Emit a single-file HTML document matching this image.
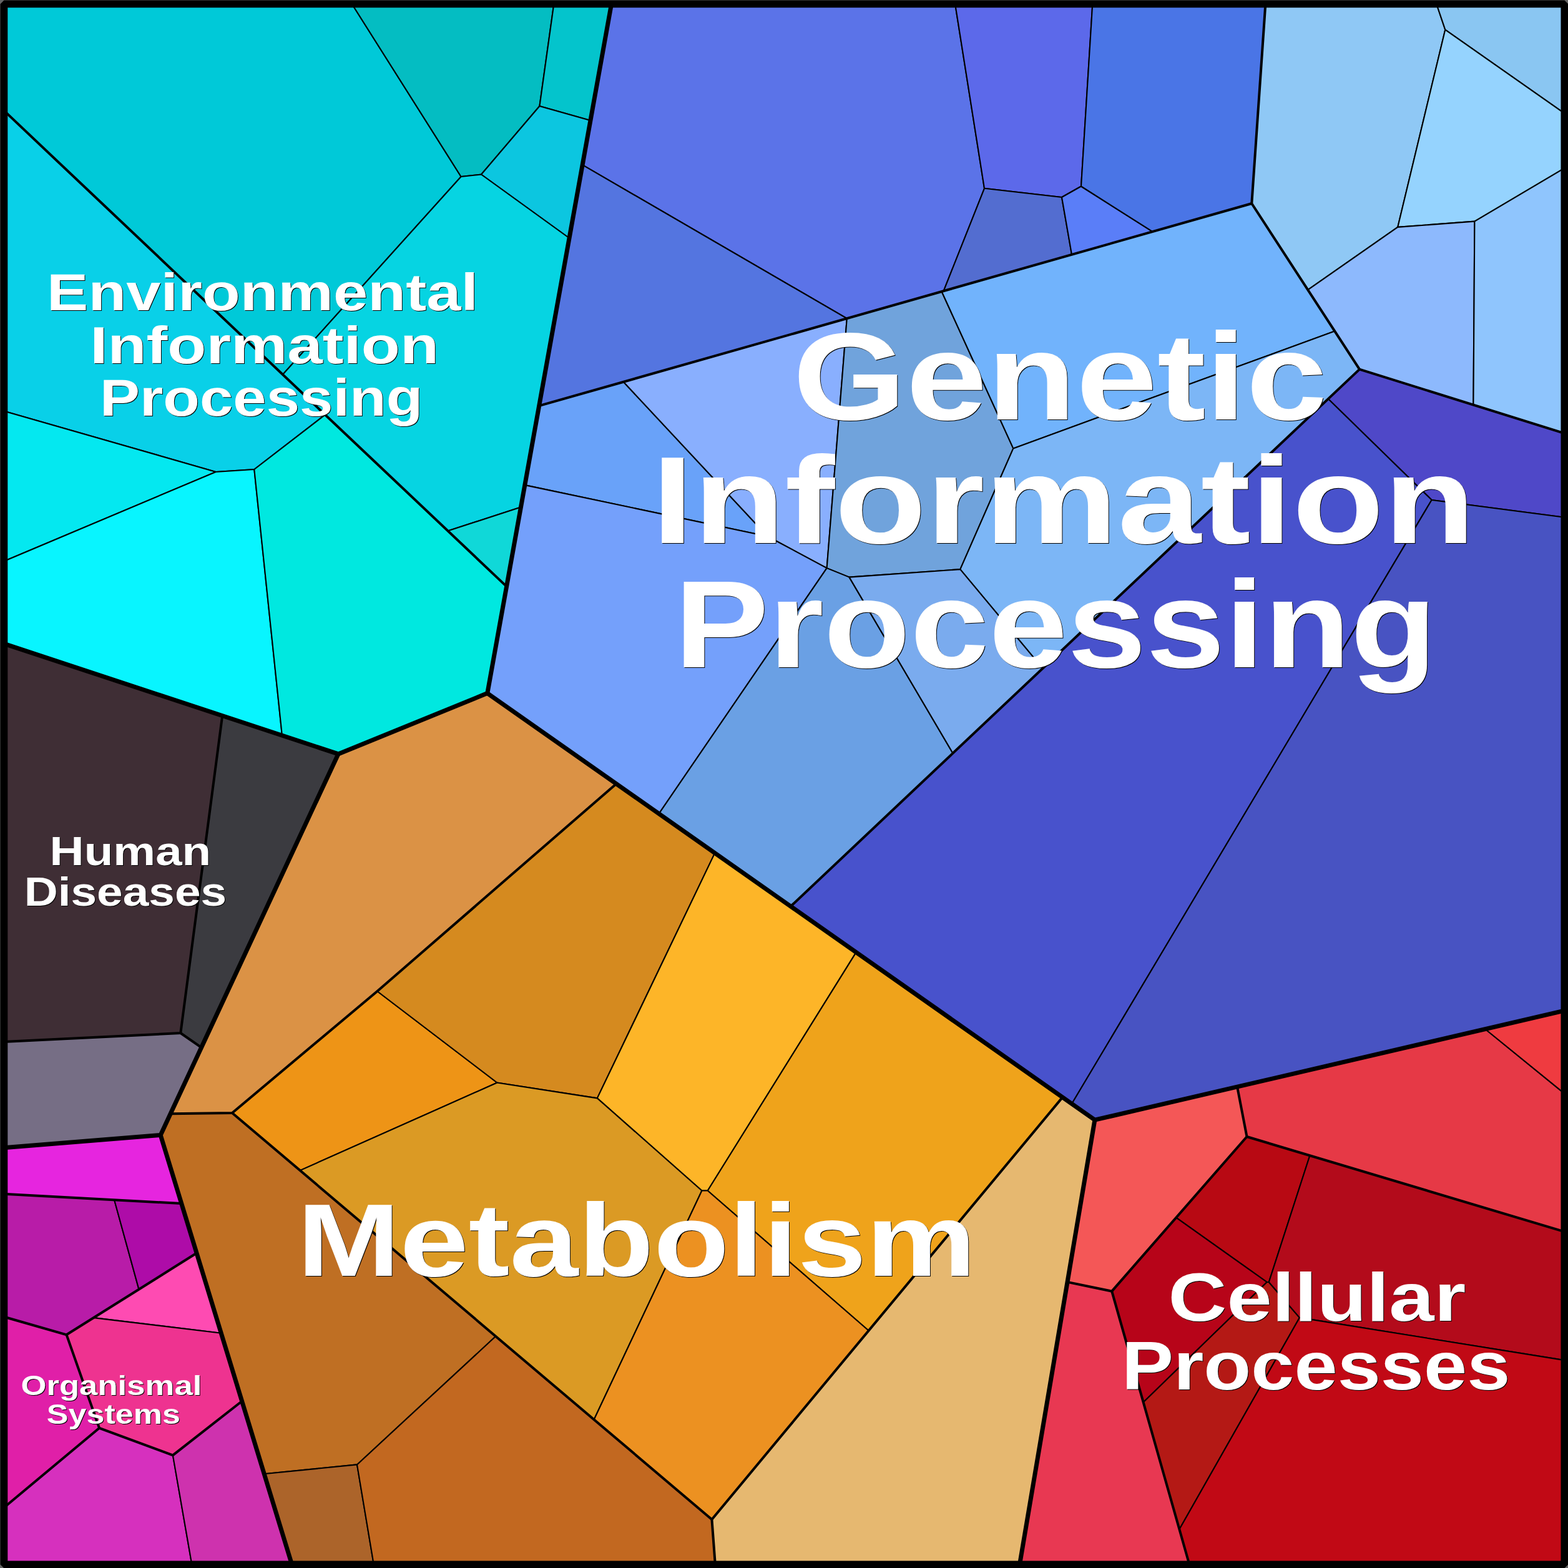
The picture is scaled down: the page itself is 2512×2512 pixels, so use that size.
<!DOCTYPE html>
<html><head><meta charset="utf-8"><title>Proteomap</title>
<style>html,body{margin:0;padding:0;width:2512px;height:2512px;overflow:hidden;background:#666;}svg{display:block}text{font-family:"Liberation Sans",sans-serif;font-weight:bold;fill:#fff;}</style></head>
<body>
<svg width="2512" height="2512" viewBox="0 0 2512 2512">
<rect width="2512" height="2512" fill="#666"/>
<g stroke="#000" stroke-width="2.1" stroke-linejoin="round">
<polygon points="6.0,6.0 563.6,6.0 738.6,283.0 453.0,600.0 6.0,176.9" fill="#00C9D8"/>
<polygon points="563.6,6.0 887.4,6.0 864.4,170.0 771.0,279.5 738.6,283.0" fill="#04BDC2"/>
<polygon points="887.4,6.0 979.6,6.0 945.9,193.0 864.4,170.0" fill="#04C4CC"/>
<polygon points="864.4,170.0 945.9,193.0 912.0,381.5 771.0,279.5" fill="#0CC6E0"/>
<polygon points="738.6,283.0 771.0,279.5 912.0,381.5 834.4,812.5 717.5,850.5 453.0,600.0" fill="#06D4E2"/>
<polygon points="834.4,812.5 811.6,939.6 717.5,850.5" fill="#10D8D8"/>
<polygon points="6.0,176.9 521.0,664.4 407.3,752.0 345.8,756.0 6.0,658.4" fill="#09D0E8"/>
<polygon points="6.0,658.4 345.8,756.0 6.0,899.3" fill="#04E8F0"/>
<polygon points="6.0,899.3 345.8,756.0 407.3,752.0 451.9,1178.2 6.0,1031.1" fill="#08F5FF"/>
<polygon points="407.3,752.0 521.0,664.4 811.6,939.6 780.8,1110.6 541.9,1207.9 451.9,1178.2" fill="#00E8E0"/>
<polygon points="979.6,6.0 1530.1,6.0 1577.0,301.8 1511.7,466.2 1356.8,510.2 933.1,264.1" fill="#5B73E8"/>
<polygon points="933.1,264.1 1356.8,510.2 863.6,650.2" fill="#5475E0"/>
<polygon points="1530.1,6.0 1750.3,6.0 1732.0,298.5 1701.0,316.0 1577.0,301.8" fill="#5C69EA"/>
<polygon points="1577.0,301.8 1701.0,316.0 1717.0,407.9 1511.7,466.2" fill="#536DD0"/>
<polygon points="1701.0,316.0 1732.0,298.5 1846.5,371.1 1717.0,407.9" fill="#5A7EF8"/>
<polygon points="1750.3,6.0 2027.4,6.0 2005.3,326.0 1846.5,371.1 1732.0,298.5" fill="#4A75E6"/>
<polygon points="2027.4,6.0 2301.2,6.0 2315.3,47.6 2239.2,363.9 2095.2,464.3 2005.3,326.0" fill="#8FC8F5"/>
<polygon points="2301.2,6.0 2506.0,6.0 2506.0,181.3 2315.3,47.6" fill="#8AC6F2"/>
<polygon points="2315.3,47.6 2506.0,181.3 2506.0,269.6 2362.4,354.6 2239.2,363.9" fill="#95D3FE"/>
<polygon points="2095.2,464.3 2239.2,363.9 2362.4,354.6 2360.4,648.6 2178.0,591.6" fill="#8DB9FD"/>
<polygon points="2362.4,354.6 2506.0,269.6 2506.0,694.2 2360.4,648.6" fill="#8FC5FD"/>
<polygon points="863.6,650.2 998.8,611.8 1229.6,859.2 840.8,777.1" fill="#69A2F9"/>
<polygon points="998.8,611.8 1356.8,510.2 1324.6,910.1 1229.6,859.2" fill="#89AFFE"/>
<polygon points="1356.8,510.2 1508.6,467.0 1623.3,718.4 1538.3,912.1 1360.5,924.6 1324.6,910.1" fill="#70A3DC"/>
<polygon points="1508.6,467.0 2005.3,326.0 2138.3,530.5 1623.3,718.4" fill="#71B3FC"/>
<polygon points="1623.3,718.4 2138.3,530.5 2178.0,591.6 1670.5,1070.8 1538.3,912.1" fill="#7CB6F6"/>
<polygon points="840.8,777.1 1229.6,859.2 1324.6,910.1 1055.6,1303.6 780.8,1110.6" fill="#74A0FB"/>
<polygon points="1324.6,910.1 1360.5,924.6 1526.5,1206.7 1266.7,1452.0 1055.6,1303.6" fill="#6AA0E4"/>
<polygon points="1360.5,924.6 1538.3,912.1 1670.5,1070.8 1526.5,1206.7" fill="#7AABEE"/>
<polygon points="2178.0,591.6 2506.0,694.2 2506.0,828.7 2293.6,801.0 2127.8,639.0" fill="#4F48C8"/>
<polygon points="2127.8,639.0 2293.6,801.0 1717.1,1768.3 1266.7,1452.0" fill="#4852CC"/>
<polygon points="2293.6,801.0 2506.0,828.7 2506.0,1619.2 1753.9,1794.2 1717.1,1768.3" fill="#4853C2"/>
<polygon points="541.9,1207.9 780.8,1110.6 987.3,1255.7 604.4,1588.0 372.0,1783.0 273.1,1784.3" fill="#DB9245"/>
<polygon points="273.1,1784.3 372.0,1783.0 480.7,1875.1 794.2,2140.8 572.0,2346.4 423.2,2361.3 257.2,1818.4" fill="#BF6F23"/>
<polygon points="423.2,2361.3 572.0,2346.4 598.7,2506.0 467.5,2506.0" fill="#AC642A"/>
<polygon points="572.0,2346.4 794.2,2140.8 951.6,2274.2 1140.4,2434.2 1145.8,2506.0 598.7,2506.0" fill="#C26820"/>
<polygon points="372.0,1783.0 604.4,1588.0 796.4,1734.5 480.7,1875.1" fill="#EE9416"/>
<polygon points="604.4,1588.0 987.3,1255.7 1145.2,1366.6 956.8,1759.4 796.4,1734.5" fill="#D58A1F"/>
<polygon points="1145.2,1366.6 1371.6,1525.6 1133.7,1907.5 1124.4,1907.5 956.8,1759.4" fill="#FDB528"/>
<polygon points="1371.6,1525.6 1702.2,1757.9 1391.6,2131.8 1133.7,1907.5" fill="#EFA31B"/>
<polygon points="480.7,1875.1 796.4,1734.5 956.8,1759.4 1124.4,1907.5 951.6,2274.2" fill="#DB9A24"/>
<polygon points="1124.4,1907.5 1133.7,1907.5 1391.6,2131.8 1140.4,2434.2 951.6,2274.2" fill="#EC9121"/>
<polygon points="1702.2,1757.9 1753.9,1794.2 1633.6,2506.0 1145.8,2506.0 1140.4,2434.2 1391.6,2131.8" fill="#E6B870"/>
<polygon points="6.0,1031.1 356.2,1146.7 289.3,1655.0 6.0,1668.9" fill="#3F2E35"/>
<polygon points="356.2,1146.7 541.9,1207.9 322.6,1678.2 289.3,1655.0" fill="#3B3B40"/>
<polygon points="6.0,1668.9 289.3,1655.0 322.6,1678.2 257.2,1818.4 6.0,1838.7" fill="#766E85"/>
<polygon points="6.0,1838.7 257.2,1818.4 290.7,1928.1 6.0,1912.7" fill="#E625DF"/>
<polygon points="6.0,1912.7 183.1,1922.3 222.5,2065.6 106.6,2138.3 6.0,2109.5" fill="#B81CA8"/>
<polygon points="183.1,1922.3 290.7,1928.1 315.0,2007.5 222.5,2065.6" fill="#AE0CA8"/>
<polygon points="315.0,2007.5 354.3,2135.8 150.0,2111.1" fill="#FE4BB2"/>
<polygon points="150.0,2111.1 354.3,2135.8 387.6,2244.7 276.9,2331.4 159.1,2287.8 106.6,2138.3" fill="#EE3390"/>
<polygon points="6.0,2109.5 106.6,2138.3 159.1,2287.8 6.0,2415.5" fill="#E01FA8"/>
<polygon points="6.0,2415.5 159.1,2287.8 276.9,2331.4 307.3,2506.0 6.0,2506.0" fill="#D630BE"/>
<polygon points="276.9,2331.4 387.6,2244.7 467.5,2506.0 307.3,2506.0" fill="#CE32AE"/>
<polygon points="1753.9,1794.2 1982.1,1741.1 1997.5,1821.0 1884.2,1950.7 1781.2,2068.6 1710.0,2053.9" fill="#F45757"/>
<polygon points="1710.0,2053.9 1781.2,2068.6 1905.3,2506.0 1633.6,2506.0" fill="#E83852"/>
<polygon points="1982.1,1741.1 2379.5,1648.7 2506.0,1751.6 2506.0,1973.2 2098.4,1851.2 1997.5,1821.0" fill="#E63946"/>
<polygon points="2379.5,1648.7 2506.0,1619.2 2506.0,1751.6" fill="#EF3B40"/>
<polygon points="1997.5,1821.0 2098.4,1851.2 2032.8,2054.0 2029.7,2054.0 1884.2,1950.7" fill="#B80913"/>
<polygon points="1884.2,1950.7 2029.7,2054.0 1831.7,2246.4 1781.2,2068.6" fill="#B70419"/>
<polygon points="2029.7,2054.0 2032.8,2054.0 2081.9,2110.9 1889.4,2450.0 1831.7,2246.4" fill="#B41915"/>
<polygon points="2098.4,1851.2 2506.0,1973.2 2506.0,2179.1 2081.9,2110.9 2032.8,2054.0" fill="#B30B1B"/>
<polygon points="2081.9,2110.9 2506.0,2179.1 2506.0,2506.0 1905.3,2506.0 1889.4,2450.0" fill="#C10915"/>
</g>
<g fill="none" stroke="#000" stroke-width="4.0" stroke-linejoin="round" stroke-linecap="round">
<polyline points="6.0,176.9 811.6,939.6"/>
<polyline points="863.6,650.2 2005.3,326.0"/>
<polyline points="2027.4,6.0 2005.3,326.0 2178.0,591.6 2506.0,694.2"/>
<polyline points="2178.0,591.6 1266.7,1452.0"/>
<polyline points="987.3,1255.7 604.4,1588.0 372.0,1783.0 273.1,1784.3"/>
<polyline points="372.0,1783.0 1140.4,2434.2 1145.8,2506.0"/>
<polyline points="1702.2,1757.9 1140.4,2434.2"/>
<polyline points="356.2,1146.7 289.3,1655.0 6.0,1668.9"/>
<polyline points="289.3,1655.0 322.6,1678.2"/>
<polyline points="6.0,1912.7 290.7,1928.1"/>
<polyline points="315.0,2007.5 106.6,2138.3 6.0,2109.5"/>
<polyline points="106.6,2138.3 159.1,2287.8 6.0,2415.5"/>
<polyline points="159.1,2287.8 276.9,2331.4 387.6,2244.7"/>
<polyline points="1982.1,1741.1 1997.5,1821.0 2506.0,1973.2"/>
<polyline points="1997.5,1821.0 1781.2,2068.6 1710.0,2053.9"/>
<polyline points="1781.2,2068.6 1905.3,2506.0"/>
</g>
<g fill="none" stroke="#000" stroke-width="7.0" stroke-linejoin="round" stroke-linecap="round">
<polyline points="979.6,6.0 780.8,1110.6 541.9,1207.9 6.0,1031.1"/>
<polyline points="541.9,1207.9 257.2,1818.4 6.0,1838.7"/>
<polyline points="257.2,1818.4 467.5,2506.0"/>
<polyline points="780.8,1110.6 1753.9,1794.2 1633.6,2506.0"/>
<polyline points="1753.9,1794.2 2506.0,1619.2"/>
</g>
<path d="M6.4,6.4H2506.4V2506.4H6.4Z" fill="none" stroke="#000" stroke-width="11.8" stroke-linejoin="bevel"/>
<g aria-label="Genetic Information Processing"><title>Genetic Information Processing</title>
<text x="1271.39" y="672.5" font-size="198.9" style="fill:#000" textLength="855.8" lengthAdjust="spacingAndGlyphs">Genetic</text>
<text x="1045.25" y="871.3" font-size="198.8" style="fill:#000" textLength="1319.2" lengthAdjust="spacingAndGlyphs">Information</text>
<text x="1081.45" y="1070.3" font-size="198.8" style="fill:#000" textLength="1221.6" lengthAdjust="spacingAndGlyphs">Processing</text>
<text x="1270.39" y="671.5" font-size="198.9" fill="#fff" textLength="855.8" lengthAdjust="spacingAndGlyphs">Genetic</text>
<text x="1044.25" y="870.3" font-size="198.8" fill="#fff" textLength="1319.2" lengthAdjust="spacingAndGlyphs">Information</text>
<text x="1080.45" y="1069.3" font-size="198.8" fill="#fff" textLength="1221.6" lengthAdjust="spacingAndGlyphs">Processing</text>
</g>
<g aria-label="Metabolism"><title>Metabolism</title>
<text x="477.16" y="2044.8" font-size="166.0" style="fill:#000" textLength="1087.5" lengthAdjust="spacingAndGlyphs">Metabolism</text>
<text x="476.16" y="2043.8" font-size="166.0" fill="#fff" textLength="1087.5" lengthAdjust="spacingAndGlyphs">Metabolism</text>
</g>
<g aria-label="Environmental Information Processing"><title>Environmental Information Processing</title>
<text x="76.07" y="498.4" font-size="84.2" style="fill:#000" textLength="691.2" lengthAdjust="spacingAndGlyphs">Environmental</text>
<text x="145.27" y="582.5" font-size="84.2" style="fill:#000" textLength="558.7" lengthAdjust="spacingAndGlyphs">Information</text>
<text x="160.97" y="667.3" font-size="84.2" style="fill:#000" textLength="517.4" lengthAdjust="spacingAndGlyphs">Processing</text>
<text x="75.07" y="497.4" font-size="84.2" fill="#fff" textLength="691.2" lengthAdjust="spacingAndGlyphs">Environmental</text>
<text x="144.27" y="581.5" font-size="84.2" fill="#fff" textLength="558.7" lengthAdjust="spacingAndGlyphs">Information</text>
<text x="159.97" y="666.3" font-size="84.2" fill="#fff" textLength="517.4" lengthAdjust="spacingAndGlyphs">Processing</text>
</g>
<g aria-label="Human Diseases"><title>Human Diseases</title>
<text x="80.63" y="1387.2" font-size="65.0" style="fill:#000" textLength="258.6" lengthAdjust="spacingAndGlyphs">Human</text>
<text x="39.73" y="1452.2" font-size="65.0" style="fill:#000" textLength="324.4" lengthAdjust="spacingAndGlyphs">Diseases</text>
<text x="79.63" y="1386.2" font-size="65.0" fill="#fff" textLength="258.6" lengthAdjust="spacingAndGlyphs">Human</text>
<text x="38.73" y="1451.2" font-size="65.0" fill="#fff" textLength="324.4" lengthAdjust="spacingAndGlyphs">Diseases</text>
</g>
<g aria-label="Organismal Systems"><title>Organismal Systems</title>
<text x="34.46" y="2236.4" font-size="45.0" style="fill:#000" textLength="289.9" lengthAdjust="spacingAndGlyphs">Organismal</text>
<text x="75.77" y="2281.6" font-size="45.0" style="fill:#000" textLength="214.2" lengthAdjust="spacingAndGlyphs">Systems</text>
<text x="33.46" y="2235.4" font-size="45.0" fill="#fff" textLength="289.9" lengthAdjust="spacingAndGlyphs">Organismal</text>
<text x="74.77" y="2280.6" font-size="45.0" fill="#fff" textLength="214.2" lengthAdjust="spacingAndGlyphs">Systems</text>
</g>
<g aria-label="Cellular Processes"><title>Cellular Processes</title>
<text x="1872.61" y="2117.3" font-size="110.3" style="fill:#000" textLength="476.6" lengthAdjust="spacingAndGlyphs">Cellular</text>
<text x="1797.98" y="2227.1" font-size="110.2" style="fill:#000" textLength="622.4" lengthAdjust="spacingAndGlyphs">Processes</text>
<text x="1871.61" y="2116.3" font-size="110.3" fill="#fff" textLength="476.6" lengthAdjust="spacingAndGlyphs">Cellular</text>
<text x="1796.98" y="2226.1" font-size="110.2" fill="#fff" textLength="622.4" lengthAdjust="spacingAndGlyphs">Processes</text>
</g>
</svg>
</body></html>
